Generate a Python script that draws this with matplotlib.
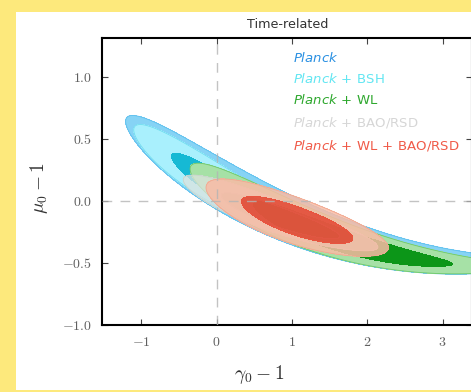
import numpy as np
import matplotlib
matplotlib.use("Agg")
import matplotlib.pyplot as plt
from matplotlib.patches import Rectangle

plt.rcParams['mathtext.fontset'] = 'cm'

# posterior shapes:
# centre along x, length scale, ridge (a + b*dx + c*dx^2), vertical width, width growth to the left
names = ["Planck", "Planck+BSH", "Planck+WL", "Planck+BAO/RSD", "Planck+WL+BAO/RSD"]
x_centre = [1.60, 0.185, 1.81, 0.85, 1.07]
x_scale = [1.13, 0.517, 0.87, 0.52, 0.487]
ridge_a = [-0.295, 0.075, -0.347, -0.135, -0.165]
ridge_b = [-0.201, -0.328, -0.182, -0.21, -0.20]
ridge_c = [0.047, 0.045, 0.045, 0.02, 0.02]
width = [0.070, 0.068, 0.060, 0.055, 0.078]
width_grow = [0.26, 0.24, 0.30, 0.15, 0.10]

fill_2s = ["#86d3f5", "#a9f0fd", "#a6e1a6", "#dde3df", "#f9bba5"]
fill_1s = ["#2f9be3", "#16b9d4", "#0c9618", "#c5cdc8", "#e8412c"]
edge_2s = ["#5fc0ee", "#70dcef", "#6cc86c", "#c8d4cc", "#f0a890"]
alphas = [1.0, 1.0, 1.0, 0.75, 0.85]

legend_text = [r"$\mathit{Planck}$",
               r"$\mathit{Planck}\,+\,\mathrm{BSH}$",
               r"$\mathit{Planck}\,+\,\mathrm{WL}$",
               r"$\mathit{Planck}\,+\,\mathrm{BAO/RSD}$",
               r"$\mathit{Planck}\,+\,\mathrm{WL}\,+\,\mathrm{BAO/RSD}$"]
legend_colors = ["#2a90e2", "#62e6f2", "#2ea82e", "#d6d6d6", "#f05a48"]

xticks = [-1, 0, 1, 2, 3]
xtick_labels = [r"$-1$", r"$0$", r"$1$", r"$2$", r"$3$"]
yticks = [-1.0, -0.5, 0.0, 0.5, 1.0]
ytick_labels = [r"$-1.0$", r"$-0.5$", r"$0.0$", r"$0.5$", r"$1.0$"]

xmin, xmax = -1.52, 3.39
ymin, ymax = -1.0, 1.31

W, H = 471, 392
fig = plt.figure(figsize=(W / 100, H / 100), dpi=100, facecolor="#fde97c")
fig.add_artist(Rectangle((16 / W, 2 / H), 1, 378 / H, transform=fig.transFigure,
                         facecolor="white", edgecolor="none", zorder=0))

ax = fig.add_axes([102 / W, (H - 325) / H, 370 / W, 287 / H])

X, Y = np.meshgrid(np.linspace(xmin, xmax, 700), np.linspace(ymin, ymax, 500))

for i in range(len(names)):
    dx = X - x_centre[i]
    ridge = ridge_a[i] + ridge_b[i] * dx + ridge_c[i] * dx ** 2
    sw = width[i] * np.exp(-width_grow[i] * dx)
    chi2 = (dx / x_scale[i]) ** 2 + ((Y - ridge) / sw) ** 2
    ax.contourf(X, Y, chi2, levels=[2.30, 6.17], colors=[fill_2s[i]], alpha=alphas[i], zorder=2 + i)
    ax.contourf(X, Y, chi2, levels=[0, 2.30], colors=[fill_1s[i]], alpha=alphas[i], zorder=2 + i)
    ax.contour(X, Y, chi2, levels=[6.17], colors=[edge_2s[i]], linewidths=0.6, zorder=2 + i)

ax.axvline(0, color="#b4b4b4", lw=1, ls=(0, (7, 6)), alpha=0.8, zorder=10)
ax.axhline(0, color="#b4b4b4", lw=1, ls=(0, (7, 6)), alpha=0.8, zorder=10)

ax.set_xlim(xmin, xmax)
ax.set_ylim(ymin, ymax)
ax.set_xticks(xticks, labels=xtick_labels)
ax.set_yticks(yticks, labels=ytick_labels)
ax.tick_params(direction="in", length=4, width=0.8, top=True, right=True,
               color="#444444", labelcolor="#606060", labelsize=10, pad=7)
for s in ax.spines.values():
    s.set_linewidth(1.5)
    s.set_color("black")

fig.text(288 / W, 1 - 25 / H, "Time-related", ha="center", va="center",
         fontsize=9.2, color="#333333")
fig.text(259 / W, 1 - 375 / H, r"$\gamma_0 - 1$", ha="center", va="center",
         fontsize=14, color="#333333")
fig.text(39 / W, 1 - 188 / H, r"$\mu_0 - 1$", ha="center", va="center",
         fontsize=14, color="#333333", rotation=90)

rows = [58, 79, 100, 122, 145]
for txt, col, r in zip(legend_text, legend_colors, rows):
    fig.text(293 / W, 1 - r / H, txt, ha="left", va="center", fontsize=9.5,
             color=col, math_fontfamily="dejavusans")

fig.savefig("out.png", dpi=100, facecolor=fig.get_facecolor())
